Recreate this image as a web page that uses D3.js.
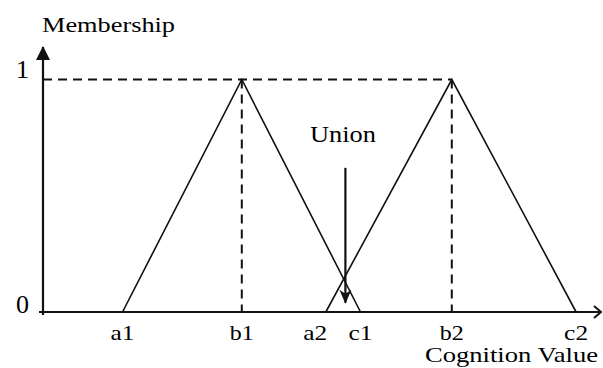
<!DOCTYPE html>
<html>
<head>
<meta charset="utf-8">
<script src="https://cdn.jsdelivr.net/npm/d3@7"></script>
<style>
  html, body { margin: 0; padding: 0; background: #fff; }
  svg { display: block; }
  text { font-family: "Liberation Serif", serif; fill: #000; }
</style>
</head>
<body>
<script>
// two triangular fuzzy numbers (a, b, c) on the cognition axis
var setNames = ["A1", "A2"];
var aVals = [14.2, 50.5];
var bVals = [35.5, 73.0];
var cVals = [56.7, 95.2];
var yTicks = [0, 1];
var pointLabels = ["a1", "b1", "a2", "c1", "b2", "c2"];
var pointValues = [14.2, 35.5, 50.5, 56.7, 73.0, 95.2];
var labelShift = [0, 0, -1.9, 0, 0, 0];
var unionX = 54.0;
var unionFrom = 0.62;
var unionTo = 0.04;

var width = 603, height = 368;

var svg = d3.select("body").append("svg")
    .attr("width", width)
    .attr("height", height);

var x = d3.scaleLinear().domain([0, 100]).range([43, 603]);
var y = d3.scaleLinear().domain([0, 1]).range([312, 79.5]);

// dashed guides
var g = svg.append("g");
g.append("line")
    .attr("x1", x(0)).attr("y1", y(1))
    .attr("x2", x(d3.max(bVals))).attr("y2", y(1))
    .attr("stroke", "#111")
    .attr("stroke-width", 2)
    .attr("stroke-dasharray", "9,6");
g.selectAll("line.vdash")
    .data(bVals)
    .join("line")
    .attr("class", "vdash")
    .attr("x1", (d) => x(d)).attr("y1", y(1))
    .attr("x2", (d) => x(d)).attr("y2", y(0))
    .attr("stroke", "#111")
    .attr("stroke-width", 2)
    .attr("stroke-dasharray", "9,6");

// triangles
var line = d3.line().x((d) => x(d[0])).y((d) => y(d[1]));
var tris = setNames.map(function (n, i) {
    return [[aVals[i], 0], [bVals[i], 1], [cVals[i], 0]];
});
g.selectAll("path.tri")
    .data(tris)
    .join("path")
    .attr("class", "tri")
    .attr("d", line)
    .attr("fill", "none")
    .attr("stroke", "#111")
    .attr("stroke-width", 1.6);

// axes
svg.append("line")
    .attr("x1", x(0)).attr("y1", y(0) + 3)
    .attr("x2", x(0)).attr("y2", 47)
    .attr("stroke", "#111")
    .attr("stroke-width", 2.2);
svg.append("path")
    .attr("d", "M" + x(0) + ",46 l-7,14 l14,0 Z")
    .attr("fill", "#111");
svg.append("line")
    .attr("x1", x(0) - 4).attr("y1", y(0))
    .attr("x2", 600).attr("y2", y(0))
    .attr("stroke", "#111")
    .attr("stroke-width", 2.2);
svg.append("path")
    .attr("d", "M594,306 L601," + y(0) + " L594,318")
    .attr("fill", "none")
    .attr("stroke", "#111")
    .attr("stroke-width", 2);

// y tick labels
svg.selectAll("text.ytick")
    .data(yTicks)
    .join("text")
    .attr("class", "ytick")
    .attr("x", 29)
    .attr("y", (d) => y(d) + (d === 0 ? 1 : -1.5))
    .attr("text-anchor", "end")
    .attr("font-size", 26)
    .text((d) => d);

// point labels
svg.selectAll("text.pt")
    .data(pointLabels)
    .join("text")
    .attr("class", "pt")
    .attr("x", (d, i) => x(pointValues[i] + labelShift[i]))
    .attr("y", 340)
    .attr("text-anchor", "middle")
    .attr("font-size", 22)
    .attr("textLength", 24)
    .attr("lengthAdjust", "spacingAndGlyphs")
    .text((d) => d);

// union arrow
svg.append("line")
    .attr("x1", x(unionX)).attr("y1", y(unionFrom))
    .attr("x2", x(unionX)).attr("y2", y(unionTo))
    .attr("stroke", "#111")
    .attr("stroke-width", 2.2);
svg.append("path")
    .attr("d", "M" + x(unionX) + "," + (y(unionTo) + 1) + " l-6,-14 l6,4 l6,-4 Z")
    .attr("fill", "#111");
svg.append("text")
    .attr("x", 343)
    .attr("y", 142)
    .attr("text-anchor", "middle")
    .attr("font-size", 23)
    .attr("textLength", 66)
    .attr("lengthAdjust", "spacingAndGlyphs")
    .text("Union");

// axis titles
svg.append("text")
    .attr("x", 42)
    .attr("y", 32)
    .attr("font-size", 22)
    .attr("textLength", 133)
    .attr("lengthAdjust", "spacingAndGlyphs")
    .text("Membership");
svg.append("text")
    .attr("x", 425)
    .attr("y", 362)
    .attr("font-size", 22)
    .attr("textLength", 173)
    .attr("lengthAdjust", "spacingAndGlyphs")
    .text("Cognition Value");
</script>
</body>
</html>
